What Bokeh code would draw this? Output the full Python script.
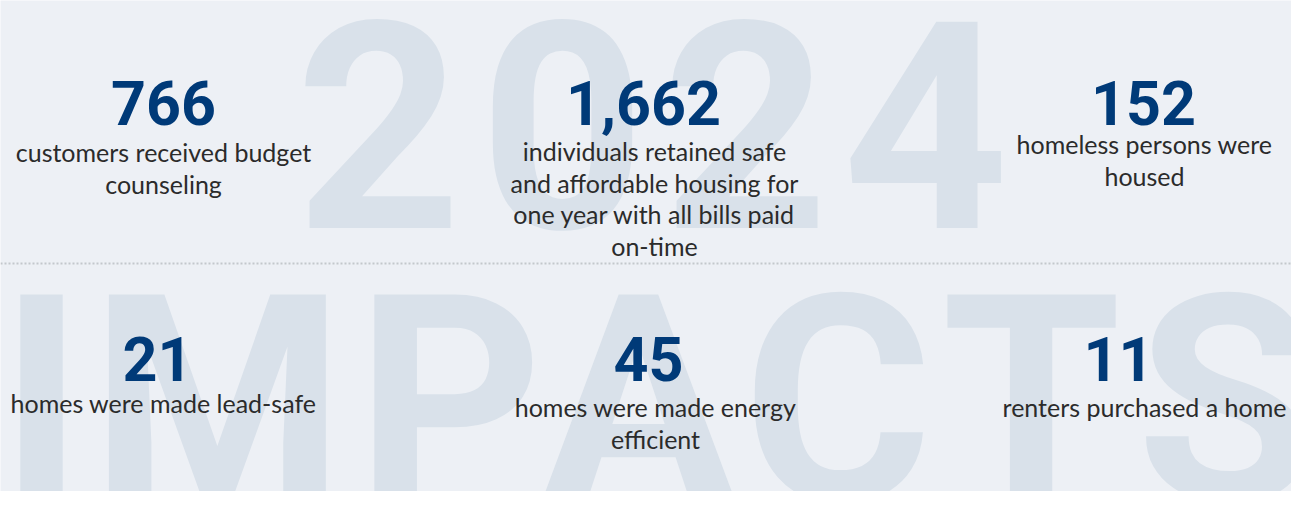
from bokeh.plotting import figure
from bokeh.models import Range1d, Span, ColumnDataSource
from bokeh.core.properties import value
from bokeh.embed import file_html
from bokeh.resources import INLINE

# ---- data ----
values = [766, 1662, 152, 21, 45, 11]
descriptions = [
    "customers received budget\ncounseling",
    "individuals retained safe\nand affordable housing for\none year with all bills paid\non-time",
    "homeless persons were\nhoused",
    "homes were made lead-safe",
    "homes were made energy\nefficient",
    "renters purchased a home",
]
watermark_top = "2024"
watermark_bottom = "IMPACTS"

# ---- layout (pixel space of the page) ----
W, H = 1291, 491
num_x = [163, 643, 1143, 157, 648, 1118]
num_base = [125, 125, 125, 381, 381, 381]
txt_x = [163, 654, 1144, 163, 655, 1144]
txt_base = [162, 161, 154, 413, 417, 417]
line_h = 31.5
top_letter_x = [378, 562, 745, 925]
bottom_letter_x = [41, 217, 449, 638, 837, 1031, 1225]
WM_SIZE, NUM_SIZE, TXT_SIZE = 290, 61, 25
# anchor-to-baseline shift of the text glyphs (fraction of font size)
K_ROBOTO, K_LATO = 0.368, 0.42

BG = "#EDF0F5"
WM = "#D9E1EA"
NUM = "#003A78"
TXT = "#2B2B2B"

p = figure(width=W, height=H,
           x_range=Range1d(0, W), y_range=Range1d(H, 0),
           output_backend="svg", toolbar_location=None,
           background_fill_color=BG, border_fill_color=BG,
           outline_line_color=None, min_border=0)
p.axis.visible = False
p.grid.visible = False

# watermark letters
wm_src = ColumnDataSource(dict(
    x=top_letter_x + bottom_letter_x,
    y=[230 - K_ROBOTO * WM_SIZE] * len(top_letter_x)
      + [508 - K_ROBOTO * WM_SIZE] * len(bottom_letter_x),
    t=list(watermark_top) + list(watermark_bottom),
))
p.text(x="x", y="y", text="t", source=wm_src,
       text_font=value("Roboto"), text_font_style="bold",
       text_font_size=f"{WM_SIZE}px", text_color=WM,
       text_align="center", text_baseline="alphabetic")

# dotted separator
p.add_layout(Span(location=263, dimension="width", line_color="#C3C7CC",
                  line_width=2, line_dash="2 2"))

# numbers
num_src = ColumnDataSource(dict(
    x=num_x, y=[b - K_ROBOTO * NUM_SIZE for b in num_base],
    t=[f"{v:,}" for v in values]))
p.text(x="x", y="y", text="t", source=num_src,
       text_font=value("Roboto"), text_font_style="bold",
       text_font_size=f"{NUM_SIZE}px", text_color=NUM,
       text_align="center", text_baseline="alphabetic")

# descriptions
lx, ly, lt = [], [], []
for x0, y0, d in zip(txt_x, txt_base, descriptions):
    for i, line in enumerate(d.split("\n")):
        lx.append(x0)
        ly.append(y0 + i * line_h - K_LATO * TXT_SIZE)
        lt.append(line)
txt_src = ColumnDataSource(dict(x=lx, y=ly, t=lt))
p.text(x="x", y="y", text="t", source=txt_src,
       text_font=value("Lato"), text_font_size=f"{TXT_SIZE}px", text_color=TXT,
       text_align="center", text_baseline="alphabetic")

open("out.html", "w").write(file_html(p, INLINE))
